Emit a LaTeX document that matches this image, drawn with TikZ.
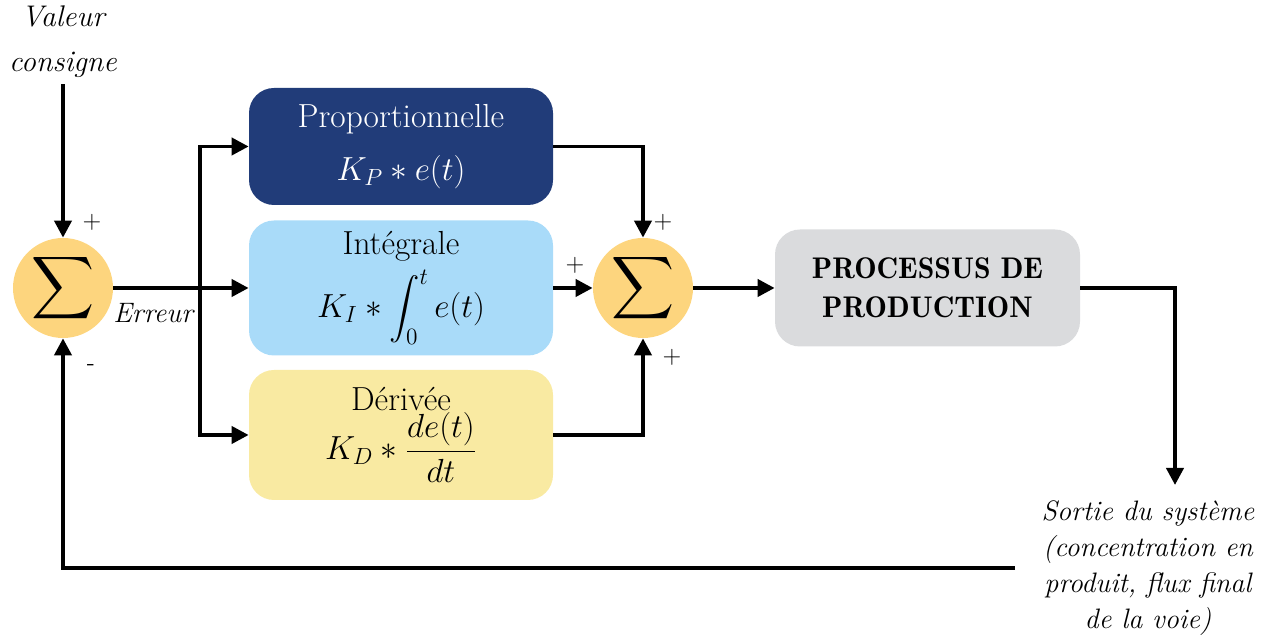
\RequirePackage{fix-cm}
\documentclass[tikz,border=0pt]{standalone}
\usepackage{amsmath}
\usepackage{fontspec}
\newfontface\grasdemi{lmromandemi10-regular.otf}
\usepackage{tikz}
\usetikzlibrary{arrows.meta, positioning, calc}
\definecolor{bleufonce}{HTML}{213C79}
\definecolor{bleuclair}{HTML}{A9DBF9}
\definecolor{jaunepale}{HTML}{F9EAA2}
\definecolor{orangesomme}{HTML}{FDD57E}
\definecolor{grisproc}{HTML}{DADBDD}
\tikzset{
  bloc/.style={rectangle, rounded corners=5mm, draw=none, align=center,
    minimum width=6.08cm, font=\fontsize{19}{22}\selectfont, inner sep=1mm},
  blocprop/.style={bloc, fill=bleufonce, text=white, minimum height=2.34cm},
  blocint/.style={bloc, fill=bleuclair, minimum height=2.7cm},
  blocder/.style={bloc, fill=jaunepale, minimum height=2.6cm},
  blocproc/.style={bloc, fill=grisproc, minimum width=6.1cm, minimum height=2.34cm,
    font=\fontsize{17}{22}\grasdemi},
  somme/.style={circle, fill=orangesomme, minimum size=2.0cm, inner sep=0pt,
    font=\fontsize{24}{28}\selectfont},
  fleche/.style={-{Triangle[length=3.4mm, width=3.4mm]}, line width=2.2pt},
  trait/.style={line width=2.2pt},
  etiquette/.style={font=\fontsize{16}{20.4}\selectfont\itshape, align=center},
  signe/.style={font=\fontsize{14}{16}\selectfont, inner sep=0pt}
}

\begin{document}
\begin{tikzpicture}
    \useasboundingbox (0, 0) rectangle (25.3, -12.8);

    \node[somme] (sommeA) at (1.26, -5.76) {$\displaystyle\sum$};
    \node[somme] (sommeB) at (12.86, -5.76) {$\displaystyle\sum$};
    \node[blocprop] (prop) at (8.02, -2.93) {Proportionnelle\\[8pt]$K_P * e(t)$};
    \node[blocint] (integ) at (8.02, -5.76) {Intégrale\\[4pt]$K_I * \displaystyle\int_0^t e(t)$};
    \node[blocder] (deriv) at (8.02, -8.7) {Dérivée\\[0pt]$K_D * \dfrac{de(t)}{dt}$};
    \node[blocproc] (processus) at (18.55, -5.76) {PROCESSUS DE\\PRODUCTION};

    \node[etiquette, font=\fontsize{17}{25.5}\selectfont\itshape] (consigne) at (1.26, -0.84) {Valeur\\consigne};
    \node[etiquette] (sortie) at (22.96, -11.36) {Sortie du système\\(concentration en\\produit, flux final\\de la voie)};
    \node[etiquette, anchor=west, inner sep=0pt] (erreur) at (2.26, -6.26) {Erreur};

    \node[signe] (plusA) at (1.84, -4.44) {+};
    \node[signe] (moinsA) at (1.82, -7.36) {-};
    \node[signe] (plusB) at (13.26, -4.44) {+};
    \node[signe] (plusC) at (11.5, -5.3) {+};
    \node[signe] (plusD) at (13.44, -7.14) {+};

    \coordinate (embranchement) at (4.0, -5.76);
    \coordinate (pointsortie) at (23.5, -9.7);
    \coordinate (retour) at (20.3, -11.36);

    \draw[fleche] (consigne) -- (sommeA);
    \draw[fleche] (sommeA) -- (integ);
    \draw[trait] (embranchement |- prop.west) -- (embranchement |- deriv.west);
    \draw[fleche] (embranchement) |- (prop.west);
    \draw[fleche] (embranchement) |- (deriv.west);
    \draw[fleche] (prop.east) -| (sommeB.north);
    \draw[fleche] (integ) -- (sommeB);
    \draw[fleche] (deriv.east) -| (sommeB.south);
    \draw[fleche] (sommeB) -- (processus);
    \draw[fleche] (processus.east) -| (pointsortie);
    \draw[fleche] (retour) -| (sommeA.south);
  \end{tikzpicture}
\end{document}
